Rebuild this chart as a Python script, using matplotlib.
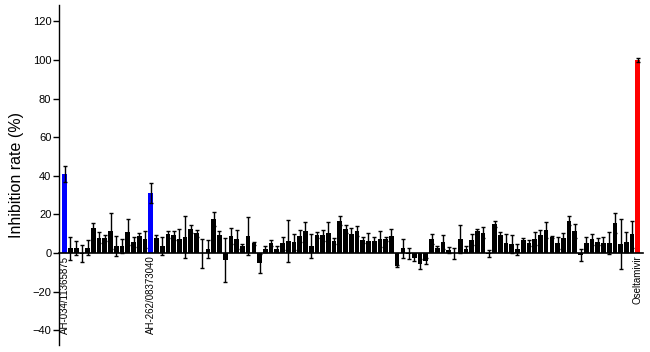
import numpy as np
import matplotlib
matplotlib.use("Agg")
import matplotlib.pyplot as plt

# ===============================
# Data
# ===============================

inhibition = [
    41.0, 2.4, 2.5, -0.3, 2.8, 12.8, 8.0, 7.6, 11.6, 3.8,
    3.6, 10.9, 5.7, 8.7, 7.0, 31.0, 8.0, 3.6, 9.7, 9.2,
    7.3, 8.3, 12.3, 10.1, -0.2, 2.0, 17.6, 9.3, -3.6, 9.0,
    7.1, 3.5, 8.6, 5.0, -5.4, 2.1, 5.2, 2.2, 5.0, 6.4,
    5.5, 8.8, 11.6, 3.5, 9.5, 9.2, 10.2, 6.4, 16.8, 12.4,
    9.7, 11.4, 6.7, 6.2, 6.2, 7.3, 7.3, 8.6, -6.6, 2.4,
    -0.3, -2.4, -5.7, -4.1, 7.3, 2.8, 5.9, 1.4, -0.2, 7.3,
    2.2, 6.9, 11.4, 10.5, -0.5, 15.0, 9.5, 5.2, 4.7, 2.0,
    6.7, 5.2, 7.3, 9.3, 11.9, 8.1, 5.2, 7.6, 16.8, 11.4,
    -1.0, 5.0, 7.1, 5.9, 5.4, 5.0, 15.5, 4.7, 5.7, 9.7,
    100.0,
]

errors = [
    4.0, 6.0, 3.5, 4.6, 4.0, 2.6, 2.7, 1.5, 9.3, 5.2,
    3.6, 6.9, 2.6, 1.6, 4.6, 5.3, 1.5, 4.9, 1.7, 2.4,
    5.0, 10.9, 2.2, 1.9, 7.5, 4.7, 3.8, 2.3, 11.4, 4.1,
    4.8, 1.0, 9.9, 0.7, 4.8, 1.4, 1.4, 1.6, 3.5, 10.9,
    4.2, 3.1, 4.6, 6.2, 1.5, 2.9, 6.0, 1.5, 2.5, 2.3,
    3.4, 2.4, 1.4, 4.3, 2.3, 4.3, 1.0, 3.8, 0.6, 5.0,
    2.9, 1.6, 2.6, 1.6, 2.4, 0.8, 3.6, 1.5, 2.8, 7.2,
    1.6, 2.9, 1.0, 2.8, 1.8, 1.6, 1.5, 4.5, 4.8, 2.8,
    1.2, 1.5, 3.4, 2.6, 4.3, 0.5, 2.9, 2.6, 2.4, 3.6,
    3.1, 3.1, 2.9, 2.0, 3.1, 5.7, 5.4, 12.8, 5.0, 7.1,
    0.8,
]

hit_index = [0, 15]
control_index = 100
label_index = [0, 15, 100]
label_text = ["AH-034/11365875", "AH-262/08373040", "Oseltamivir"]

y_ticks = [-40, -20, 0, 20, 40, 60, 80, 100, 120]

# ===============================
# Plot
# ===============================

plt.rcParams["font.family"] = ["Liberation Sans", "DejaVu Sans"]

x = np.arange(len(inhibition))
colors = ["black"] * len(inhibition)
for i in hit_index:
    colors[i] = "#0000ff"
colors[control_index] = "#ff0000"

fig = plt.figure(figsize=(6.5, 3.52), dpi=100)
ax = fig.add_axes([59 / 650, 7 / 352, 584 / 650, 340 / 352])

# spine setup first: moving a spine resets the tick formatting
ax.spines["top"].set_visible(False)
ax.spines["right"].set_visible(False)
ax.spines["bottom"].set_position(("data", 0))
ax.spines["bottom"].set_linewidth(1.2)
ax.spines["left"].set_linewidth(1)

ax.bar(x, inhibition, width=0.82, color=colors, edgecolor="none", zorder=2)
ax.errorbar(x, inhibition, yerr=errors, fmt="none", ecolor="black",
            elinewidth=1, capsize=1.5, capthick=1, zorder=3)

ax.set_xlim(-1.0, 100.9)
ax.set_ylim(-47.7, 128.5)
ax.set_yticks(y_ticks)
ax.set_xticks(label_index)
ax.set_xticklabels(label_text)
ax.tick_params(axis="x", length=0, pad=2, labelsize=7, labelrotation=90)
ax.tick_params(axis="y", direction="out", length=4, width=1, pad=1.5,
               labelsize=8)
for lbl in ax.get_xticklabels():
    lbl.set_va("top")
    lbl.set_ha("center")

ax.set_ylabel("Inhibition rate (%)", fontsize=11.5, labelpad=6)

fig.savefig("out.png", dpi=100)
